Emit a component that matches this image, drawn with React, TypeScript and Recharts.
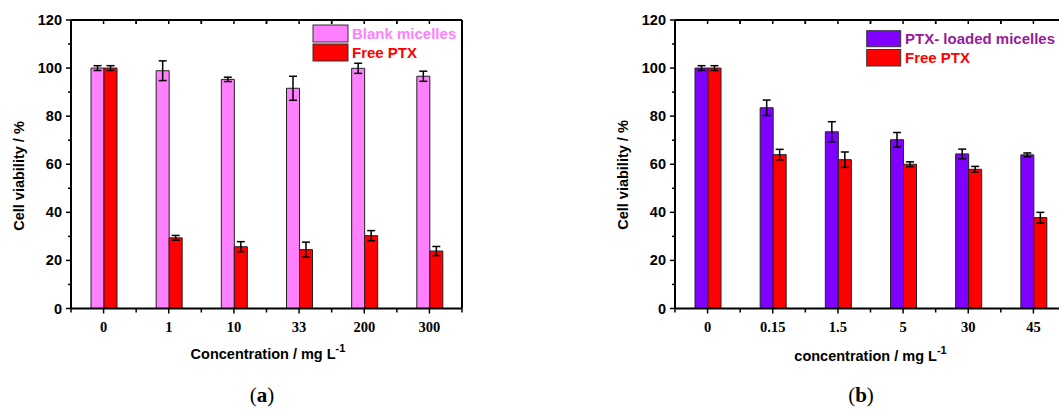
import React from 'react';
import { BarChart, Bar, XAxis, YAxis, ErrorBar } from 'recharts';

// ---------- data ----------
const catsA = ['0', '1', '10', '33', '200', '300'];
const blankMicelles = [100, 98.9, 95.3, 91.6, 99.9, 96.6];
const blankMicellesErr = [1, 4.1, 0.9, 5, 2.1, 2.1];
const freePtxA = [100, 29.4, 25.7, 24.5, 30.3, 23.9];
const freePtxAErr = [1, 1, 2.1, 3.1, 2.1, 1.9];

const catsB = ['0', '0.15', '1.5', '5', '30', '45'];
const loadedMicelles = [100, 83.5, 73.5, 70.2, 64.3, 63.9];
const loadedMicellesErr = [1, 3.2, 4.2, 3, 2, 0.8];
const freePtxB = [100, 64, 61.9, 60, 57.9, 37.8];
const freePtxBErr = [1, 2.2, 3.2, 1, 1.2, 2.2];

const yTicks = [0, 10, 20, 30, 40, 50, 60, 70, 80, 90, 100, 110, 120];
const yLabelTicks = [0, 20, 40, 60, 80, 100, 120];

const PINK = '#ff80ff';
const RED = '#ff0000';
const VIOLET = '#8000ff';
const PURPLE_TEXT = '#9a1a9a';

const SANS = '"Liberation Sans", Arial, sans-serif';
const SERIF = '"Liberation Serif", "Times New Roman", serif';

// ---------- layout ----------
const PLOT_W = 391;
const CHART_H = 340;
const MARGIN = { top: 19, right: 16, left: 11, bottom: 0 };
const Y_W = 60;
const CHART_W = MARGIN.left + Y_W + PLOT_W + 1 + MARGIN.right;
const HALF_BAND = PLOT_W / 6 / 2;

const build = (cats: string[], a: number[], ae: number[], b: number[], be: number[]) =>
  cats.map((c, i) => ({ cat: c, s1: a[i], s1e: ae[i], s2: b[i], s2e: be[i] }));

const dataA = build(catsA, blankMicelles, blankMicellesErr, freePtxA, freePtxAErr);
const dataB = build(catsB, loadedMicelles, loadedMicellesErr, freePtxB, freePtxBErr);

const LeftYTick = (props: any) => {
  const { x, y, payload } = props;
  const v = payload.value;
  const major = yLabelTicks.includes(v);
  return (
    <g>
      <line x1={x - (major ? 5 : 3)} x2={x} y1={y} y2={y} stroke="#000" strokeWidth={1.5} />
      {major && (
        <text x={x - 9} y={y + 5} textAnchor="end" fontFamily={SANS} fontWeight="bold" fontSize={14.5} fill="#000">
          {v}
        </text>
      )}
    </g>
  );
};

const RightYTick = (props: any) => {
  const { x, y } = props;
  return <line x1={x - 4} x2={x} y1={y} y2={y} stroke="#000" strokeWidth={1.5} />;
};

const BottomXTick = (props: any) => {
  const { x, y, payload, index, visibleTicksCount } = props;
  const last = index === (visibleTicksCount ?? 6) - 1;
  return (
    <g>
      <line x1={x} x2={x} y1={y} y2={y + 5} stroke="#000" strokeWidth={1.5} />
      <line x1={x - HALF_BAND} x2={x - HALF_BAND} y1={y} y2={y + 4} stroke="#000" strokeWidth={1.5} />
      {last && <line x1={x + HALF_BAND} x2={x + HALF_BAND} y1={y} y2={y + 4} stroke="#000" strokeWidth={1.5} />}
      <text x={x} y={y + 23} textAnchor="middle" fontFamily={SERIF} fontWeight="bold" fontSize={14.5} fill="#000">
        {payload.value}
      </text>
    </g>
  );
};

const TopXTick = (props: any) => {
  const { x, y } = props;
  return (
    <g>
      <line x1={x} x2={x} y1={y} y2={y + 4} stroke="#000" strokeWidth={1.5} />
      <line x1={x - HALF_BAND} x2={x - HALF_BAND} y1={y} y2={y + 4} stroke="#000" strokeWidth={1.5} />
      <line x1={x + HALF_BAND} x2={x + HALF_BAND} y1={y} y2={y + 4} stroke="#000" strokeWidth={1.5} />
    </g>
  );
};

const Panel = ({ data, c1, c2 }: { data: any[]; c1: string; c2: string }) => (
  <BarChart width={CHART_W} height={CHART_H} data={data} margin={MARGIN} barGap={0} barSize={13}>
    <XAxis
      dataKey="cat"
      xAxisId="bottom"
      height={CHART_H - 308.5}
      axisLine={{ stroke: '#000', strokeWidth: 2 }}
      tickLine={false}
      tickSize={0}
      tickMargin={0}
      tick={<BottomXTick />}
      interval={0}
    />
    <XAxis
      dataKey="cat"
      xAxisId="top"
      orientation="top"
      height={1}
      axisLine={{ stroke: '#000', strokeWidth: 2 }}
      tickLine={false}
      tickSize={0}
      tickMargin={0}
      tick={<TopXTick />}
      interval={0}
    />
    <YAxis
      yAxisId="left"
      type="number"
      domain={[0, 120]}
      ticks={yTicks}
      interval={0}
      width={Y_W}
      axisLine={{ stroke: '#000', strokeWidth: 2 }}
      tickLine={false}
      tickSize={0}
      tickMargin={0}
      tick={<LeftYTick />}
    />
    <YAxis
      yAxisId="right"
      orientation="right"
      type="number"
      domain={[0, 120]}
      ticks={yTicks}
      interval={0}
      width={1}
      axisLine={{ stroke: '#000', strokeWidth: 2 }}
      tickLine={false}
      tickSize={0}
      tickMargin={0}
      tick={<RightYTick />}
    />
    <Bar dataKey="s1" xAxisId="bottom" yAxisId="left" fill={c1} stroke="#222" strokeWidth={1} isAnimationActive={false}>
      <ErrorBar dataKey="s1e" direction="y" width={4} stroke="#000" strokeWidth={1.5} />
    </Bar>
    <Bar dataKey="s2" xAxisId="bottom" yAxisId="left" fill={c2} stroke="#222" strokeWidth={1} isAnimationActive={false}>
      <ErrorBar dataKey="s2e" direction="y" width={4} stroke="#000" strokeWidth={1.5} />
    </Bar>
  </BarChart>
);

const B_LEFT = 604;

export default function App() {
  return (
    <div style={{ position: 'absolute', left: 0, top: 0, width: 1059, height: 410, overflow: 'hidden', background: '#fff' }}>
      <div style={{ position: 'absolute', left: 0, top: 0 }}>
        <Panel data={dataA} c1={PINK} c2={RED} />
      </div>
      <div style={{ position: 'absolute', left: B_LEFT, top: 0 }}>
        <Panel data={dataB} c1={VIOLET} c2={RED} />
      </div>
      <svg width={1059} height={410} style={{ position: 'absolute', left: 0, top: 0, pointerEvents: 'none' }}>
        {/* axis titles (a) */}
        <text transform="translate(24,176) rotate(-90)" textAnchor="middle" fontFamily={SANS} fontWeight="bold" fontSize={14.5} fill="#000">
          Cell viability / %
        </text>
        <text x={268} y={359} textAnchor="middle" fontFamily={SANS} fontWeight="bold" fontSize={14.5} fill="#000">
          <tspan>Concentration / mg L</tspan>
          <tspan dy={-7} fontSize={11}>-1</tspan>
        </text>
        <text x={262} y={402} textAnchor="middle" fontFamily={SERIF} fontSize={21} fill="#000">
          (<tspan fontWeight="bold">a</tspan>)
        </text>
        {/* legend (a) */}
        <rect x={313} y={25} width={35} height={17} fill={PINK} stroke="#333" strokeWidth={1} />
        <rect x={313} y={44} width={35} height={17} fill={RED} stroke="#333" strokeWidth={1} />
        <text x={352} y={39.3} fontFamily={SANS} fontWeight="bold" fontSize={15} fill={PINK}>Blank micelles</text>
        <text x={352} y={58.3} fontFamily={SANS} fontWeight="bold" fontSize={15} fill={RED}>Free PTX</text>

        {/* axis titles (b) */}
        <text transform="translate(628,175) rotate(-90)" textAnchor="middle" fontFamily={SANS} fontWeight="bold" fontSize={14.5} fill="#000">
          Cell viability / %
        </text>
        <text x={870.5} y={361} textAnchor="middle" fontFamily={SANS} fontWeight="bold" fontSize={14.5} fill="#000">
          <tspan>concentration / mg L</tspan>
          <tspan dy={-7} fontSize={11}>-1</tspan>
        </text>
        <text x={861} y={402} textAnchor="middle" fontFamily={SERIF} fontSize={21} fill="#000">
          (<tspan fontWeight="bold">b</tspan>)
        </text>
        {/* legend (b) */}
        <rect x={866.7} y={30.7} width={34} height={16} fill={VIOLET} stroke="#333" strokeWidth={1} />
        <rect x={866.7} y={49.5} width={34} height={16.5} fill={RED} stroke="#333" strokeWidth={1} />
        <text x={905} y={44.3} fontFamily={SANS} fontWeight="bold" fontSize={15} fill={PURPLE_TEXT}>PTX- loaded micelles</text>
        <text x={905} y={63.3} fontFamily={SANS} fontWeight="bold" fontSize={15} fill={RED}>Free PTX</text>
      </svg>
    </div>
  );
}
